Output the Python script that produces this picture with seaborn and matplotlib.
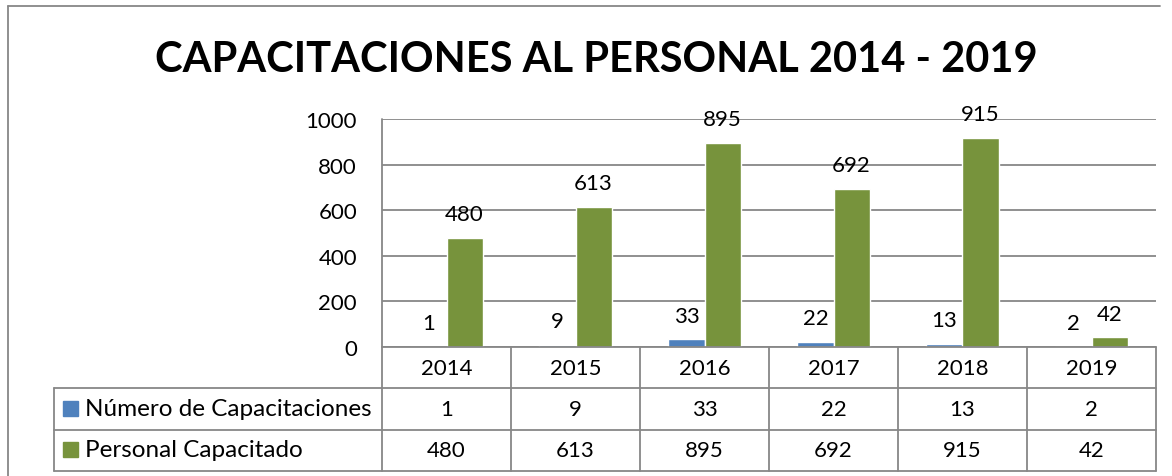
import matplotlib.pyplot as plt
import pandas as pd
import seaborn as sns
from matplotlib.lines import Line2D
from matplotlib.patches import Rectangle
from matplotlib.transforms import blended_transform_factory

# Data
years = ['2014', '2015', '2016', '2017', '2018', '2019']
num_capacitaciones = [1, 9, 33, 22, 13, 2]
personal_capacitado = [480, 613, 895, 692, 915, 42]
series_names = ['Número de Capacitaciones', 'Personal Capacitado']
colors = ['#4F81BD', '#77933C']

df = pd.DataFrame({
    'year': years * 2,
    'serie': [series_names[0]] * len(years) + [series_names[1]] * len(years),
    'value': num_capacitaciones + personal_capacitado,
})

sns.set_style('white')
plt.rcParams['font.family'] = ['Lato', 'DejaVu Sans']
plt.rcParams['text.color'] = 'black'
plt.rcParams['ytick.color'] = 'black'

W, H = 1172, 477
fig = plt.figure(figsize=(W / 100, H / 100), dpi=100)


def fx(px):
    return px / W


def fy(py):
    return 1 - py / H


grid_c = '#878787'
ax = fig.add_axes([fx(382), fy(348), fx(1156) - fx(382), fy(120) - fy(348)])
sns.barplot(data=df, x='year', y='value', hue='serie', palette=colors,
            width=0.56, saturation=1, ax=ax, legend=False)
ax.set_ylim(0, 1000)
ax.set_xlim(-0.5, len(years) - 0.5)
ax.set_yticks(range(0, 1001, 200))
ax.yaxis.grid(True, color=grid_c, lw=1.3)
ax.set_axisbelow(True)
for s in ['top', 'right', 'bottom', 'left']:
    ax.spines[s].set_visible(False)
ax.set_xticks([])
ax.set_xlabel('')
ax.set_ylabel('')
ax.tick_params(axis='y', length=0, pad=18, labelsize=16, labelcolor='black')

for cont in ax.containers:
    ax.bar_label(cont, padding=10, fontsize=16, color='black')

# Title
fig.text(fx(596), fy(60), 'CAPACITACIONES AL PERSONAL 2014 - 2019',
         ha='center', va='center', fontsize=30, fontweight='bold', color='black')

# Outer frame
fig.add_artist(Line2D([fx(8), fx(1160)], [fy(7), fy(7)], color=grid_c, lw=1.3))
fig.add_artist(Line2D([fx(8), fx(8)], [fy(7), 0], color=grid_c, lw=1.3))

# Data table
tr = blended_transform_factory(ax.transData, fig.transFigure)
n = len(years)
for y in [389, 431, 472]:
    fig.add_artist(Line2D([fx(54), fx(1156)], [fy(y), fy(y)], color=grid_c, lw=1.3))
fig.add_artist(Line2D([fx(382), fx(1156)], [fy(348), fy(348)], color=grid_c, lw=1.3))
fig.add_artist(Line2D([fx(54), fx(54)], [fy(389), fy(472)], color=grid_c, lw=1.3))
fig.add_artist(Line2D([fx(382), fx(382)], [fy(120), fy(472)], color=grid_c, lw=1.3))
for i in range(1, n + 1):
    fig.add_artist(Line2D([i - 0.5, i - 0.5], [fy(348), fy(472)], color=grid_c,
                          lw=1.3, transform=tr))

for i, yr in enumerate(years):
    fig.text(i, fy(369), yr, transform=tr, ha='center', va='center', fontsize=16)
    fig.text(i, fy(410), str(num_capacitaciones[i]), transform=tr,
             ha='center', va='center', fontsize=16)
    fig.text(i, fy(451), str(personal_capacitado[i]), transform=tr,
             ha='center', va='center', fontsize=16)

for row_y, name, c in zip([410, 451], series_names, colors):
    fig.add_artist(Rectangle((fx(63), fy(row_y + 7)), fx(15), fy(0) - fy(15),
                             color=c, transform=fig.transFigure))
    fig.text(fx(85), fy(row_y), name, ha='left', va='center', fontsize=17.5)

fig.savefig('out.png', dpi=100)
